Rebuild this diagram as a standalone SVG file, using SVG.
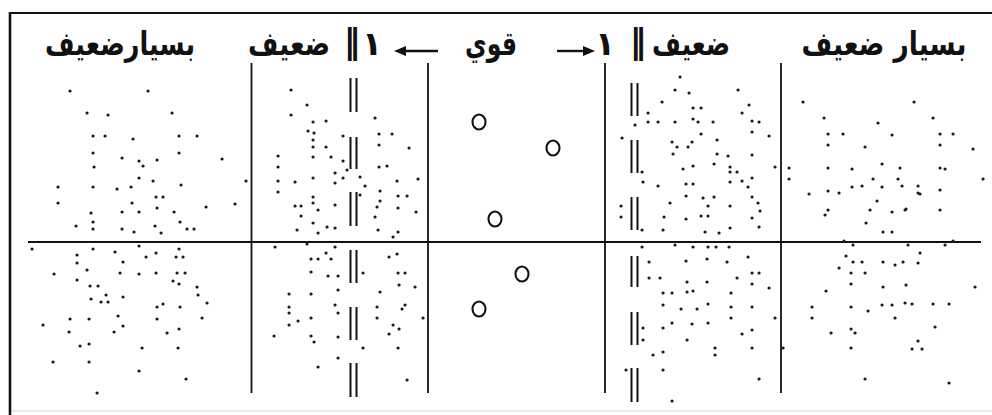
<svg xmlns="http://www.w3.org/2000/svg" width="992" height="415" viewBox="0 0 992 415">
<style>
.frame{stroke:#111;fill:none}
.grid{stroke:#111;stroke-width:1.8;fill:none}
.bar{stroke:#111;stroke-width:2;fill:none}
.dots{stroke:#1a1a1a;stroke-width:3.1;stroke-linecap:round;fill:none}
.ring{stroke:#111;stroke-width:2.1;fill:none}
.lbl{font-family:"DejaVu Sans",sans-serif;font-size:33px;font-weight:bold;fill:#111}
.arr{stroke:#111;stroke-width:2.4;fill:none}
</style>
<defs>
<marker id="ah" viewBox="0 0 12 10" markerWidth="13" markerHeight="10" markerUnits="userSpaceOnUse" refX="2" refY="5" orient="auto">
<path d="M0,0 L12,5 L0,10 z" fill="#111"/>
</marker>
</defs>
<rect width="992" height="415" fill="#fff"/>
<g id="frame">
<line class="frame" x1="9" y1="13" x2="992" y2="13" stroke-width="2"/>
<line class="frame" x1="10" y1="12" x2="10" y2="415" stroke-width="2.6"/>
<line x1="12" y1="411" x2="992" y2="411" stroke="#e2e2e2" stroke-width="1.5"/>
</g>
<g id="grid">
<line class="grid" x1="251.5" y1="63" x2="251.5" y2="393"/>
<line class="grid" x1="428" y1="63" x2="428" y2="393"/>
<line class="grid" x1="605" y1="63" x2="605" y2="393"/>
<line class="grid" x1="781" y1="63" x2="781" y2="393"/>
<line class="grid" x1="28" y1="242" x2="981" y2="242" stroke-width="2"/>
</g>
<g id="barrier-left">
<path class="bar" d="M350.5 78V112M356.5 78V112M350.5 137V169M356.5 137V169M350.5 192V226M356.5 192V226M350.5 250V283M356.5 250V283M350.5 307V340M356.5 307V340M350.5 363V397M356.5 363V397"/>
</g>
<g id="barrier-right">
<path class="bar" d="M631.5 83V116M637.5 83V116M631.5 140V173M637.5 140V173M631.5 197V230M637.5 197V230M631.5 256V287M637.5 256V287M631.5 312V345M637.5 312V345M631.5 368V402M637.5 368V402"/>
</g>
<g id="particles-strong">
<ellipse class="ring" cx="479" cy="122" rx="6.5" ry="7.5"/>
<ellipse class="ring" cx="553" cy="148" rx="6.5" ry="7.5"/>
<ellipse class="ring" cx="495" cy="219" rx="6.5" ry="7.5"/>
<ellipse class="ring" cx="522" cy="274" rx="6.5" ry="7.5"/>
<ellipse class="ring" cx="479" cy="309" rx="6.5" ry="7.5"/>
</g>
<g id="dots-col1">
<path class="dots" d="M70 91h.1M148 91h.1M87 113h.1M108 115h.1M172 113h.1M93 136h.1M105 136h.1M133 139h.1M179 136h.1M197 136h.1M93 153h.1M122 158h.1M139 161h.1M143 166h.1M157 160h.1M179 153h.1M222 159h.1M94 167h.1M58 187h.1M93 187h.1M117 189h.1M131 187h.1M139 178h.1M153 181h.1M181 185h.1M246 181h.1M58 203h.1M132 203h.1M139 212h.1M122 212h.1M156 197h.1M163 197h.1M157 208h.1M174 212h.1M206 207h.1M235 204h.1M91 213h.1M93 222h.1M76 226h.1M93 229h.1M122 229h.1M134 232h.1M155 226h.1M161 233h.1M180 222h.1M187 229h.1M194 229h.1"/>
<path class="dots" d="M32 249h.1M77 255h.1M93 249h.1M115 252h.1M139 246h.1M146 257h.1M156 253h.1M179 249h.1M176 257h.1M183 257h.1M77 263h.1M123 262h.1M54 274h.1M87 270h.1M77 280h.1M120 273h.1M139 274h.1M156 273h.1M177 273h.1M185 273h.1M173 281h.1M179 284h.1M90 286h.1M98 286h.1M197 287h.1M106 295h.1M123 297h.1M198 295h.1M91 299h.1M101 302h.1M108 302h.1M207 303h.1M163 304h.1M157 307h.1M180 307h.1M43 325h.1M70 319h.1M89 319h.1M118 316h.1M123 326h.1M114 332h.1M157 319h.1M202 318h.1M69 332h.1M167 333h.1M179 329h.1M80 346h.1M89 344h.1M142 348h.1M178 348h.1M53 362h.1M89 362h.1M139 371h.1M186 379h.1M97 393h.1"/>
</g>
<g id="dots-col2">
<path class="dots" d="M291 90h.1M307 105h.1M291 115h.1M313 122h.1M326 121h.1M375 118h.1M308 131h.1M314 133h.1M313 140h.1M343 136h.1M379 134h.1M392 134h.1M313 147h.1M326 147h.1M379 145h.1M409 148h.1M278 156h.1M313 157h.1M331 157h.1M343 161h.1M278 167h.1M347 170h.1M379 167h.1M387 166h.1M335 173h.1M360 177h.1M278 181h.1M295 182h.1M313 178h.1M335 183h.1M343 178h.1M365 186h.1M380 191h.1M397 181h.1M418 179h.1M278 192h.1M313 197h.1M360 195h.1M380 201h.1M398 196h.1M407 196h.1M295 206h.1M301 206h.1M313 203h.1M335 205h.1M377 207h.1M398 208h.1M416 212h.1M318 210h.1M301 216h.1M375 217h.1M313 223h.1M327 227h.1M335 228h.1M297 230h.1M318 233h.1M378 230h.1M398 232h.1M393 237h.1"/>
<path class="dots" d="M275 247h.1M307 244h.1M335 247h.1M326 253h.1M311 259h.1M318 259h.1M331 259h.1M389 257h.1M397 254h.1M311 272h.1M328 276h.1M338 276h.1M363 273h.1M398 273h.1M405 273h.1M338 290h.1M399 285h.1M415 287h.1M380 292h.1M289 294h.1M311 294h.1M289 307h.1M335 305h.1M338 313h.1M377 307h.1M405 305h.1M402 309h.1M289 313h.1M311 318h.1M289 325h.1M298 321h.1M377 318h.1M423 318h.1M393 325h.1M399 329h.1M389 334h.1M274 336h.1M311 336h.1M314 342h.1M338 337h.1M363 348h.1M398 348h.1M338 358h.1M318 367h.1M407 380h.1"/>
</g>
<g id="dots-col4">
<path class="dots" d="M680 77h.1M675 90h.1M689 93h.1M738 90h.1M662 102h.1M749 105h.1M648 113h.1M693 108h.1M701 108h.1M742 113h.1M635 125h.1M648 122h.1M658 122h.1M675 122h.1M693 119h.1M698 122h.1M713 122h.1M752 121h.1M759 122h.1M701 134h.1M752 132h.1M769 136h.1M622 138h.1M717 140h.1M672 142h.1M692 142h.1M677 147h.1M688 147h.1M673 154h.1M717 154h.1M728 156h.1M752 155h.1M642 172h.1M683 169h.1M693 166h.1M714 164h.1M730 167h.1M730 172h.1M737 172h.1M752 178h.1M775 167h.1M658 186h.1M686 184h.1M693 184h.1M730 182h.1M742 181h.1M748 187h.1M643 182h.1M686 196h.1M714 197h.1M752 197h.1M621 206h.1M670 203h.1M703 198h.1M708 206h.1M730 206h.1M758 203h.1M621 217h.1M664 217h.1M686 219h.1M701 216h.1M708 216h.1M760 211h.1M752 218h.1M663 230h.1M705 232h.1M719 233h.1M730 228h.1M759 227h.1M642 230h.1"/>
<path class="dots" d="M642 247h.1M675 245h.1M693 247h.1M708 247h.1M716 247h.1M729 247h.1M649 262h.1M686 261h.1M707 259h.1M727 262h.1M748 257h.1M649 278h.1M660 278h.1M687 282h.1M707 282h.1M737 278h.1M752 273h.1M759 273h.1M752 284h.1M769 288h.1M663 293h.1M672 293h.1M687 292h.1M693 291h.1M731 293h.1M663 305h.1M681 309h.1M697 309h.1M708 304h.1M731 307h.1M752 307h.1M672 323h.1M663 328h.1M692 324h.1M708 323h.1M731 318h.1M775 318h.1M643 328h.1M643 340h.1M687 340h.1M742 334h.1M752 330h.1M653 355h.1M663 352h.1M715 348h.1M715 355h.1M752 348h.1M783 348h.1M626 370h.1M663 370h.1M759 379h.1M672 401h.1"/>
</g>
<g id="dots-col5">
<path class="dots" d="M803 102h.1M914 102h.1M824 118h.1M878 123h.1M933 118h.1M828 134h.1M843 134h.1M892 135h.1M940 134h.1M953 134h.1M828 145h.1M865 147h.1M940 145h.1M973 149h.1M789 168h.1M828 168h.1M852 169h.1M882 164h.1M900 168h.1M940 168h.1M945 169h.1M789 179h.1M873 179h.1M898 179h.1M983 179h.1M809 194h.1M828 191h.1M839 193h.1M852 187h.1M862 186h.1M882 187h.1M902 186h.1M918 186h.1M940 190h.1M920 194h.1M877 201h.1M828 210h.1M825 215h.1M870 210h.1M892 212h.1M906 209h.1M940 210h.1M866 223h.1M883 232h.1M892 232h.1M918 193h.1M905 210h.1"/>
<path class="dots" d="M844 241h.1M853 245h.1M908 245h.1M945 245h.1M953 241h.1M846 256h.1M853 262h.1M862 262h.1M883 262h.1M895 265h.1M903 262h.1M920 253h.1M918 263h.1M839 268h.1M851 273h.1M865 273h.1M826 291h.1M851 284h.1M883 287h.1M906 285h.1M975 287h.1M868 311h.1M812 307h.1M851 307h.1M882 305h.1M892 305h.1M905 303h.1M912 304h.1M933 304h.1M949 304h.1M812 318h.1M895 318h.1M851 329h.1M855 333h.1M831 333h.1M935 327h.1M918 341h.1M851 348h.1M912 349h.1M922 349h.1M865 379h.1M949 383h.1"/>
</g>
<g id="labels">
<text id="lbl-col1" class="lbl" x="120" y="55" text-anchor="middle" textLength="150" lengthAdjust="spacingAndGlyphs">بسيارضعيف</text>
<text id="lbl-col2" class="lbl" x="289" y="55" text-anchor="middle" textLength="82" lengthAdjust="spacingAndGlyphs">ضعيف</text>
<text id="lbl-bar-left" class="lbl" x="352" y="53" text-anchor="middle" font-size="28">‖</text>
<text id="lbl-one-left" class="lbl" x="372" y="55" text-anchor="middle" font-size="24">١</text>
<text id="lbl-col3" class="lbl" x="491" y="55" text-anchor="middle" textLength="52" lengthAdjust="spacingAndGlyphs">قوي</text>
<text id="lbl-one-right" class="lbl" x="605" y="55" text-anchor="middle" font-size="24">١</text>
<text id="lbl-bar-right" class="lbl" x="638" y="53" text-anchor="middle" font-size="28">‖</text>
<text id="lbl-col4" class="lbl" x="691" y="55" text-anchor="middle" textLength="78" lengthAdjust="spacingAndGlyphs">ضعيف</text>
<text id="lbl-col5" class="lbl" x="884" y="55" text-anchor="middle" textLength="165" lengthAdjust="spacingAndGlyphs">بسيار ضعيف</text>
</g>
<g id="connectors">
<line class="arr" x1="438" y1="51" x2="404" y2="51" marker-end="url(#ah)"/>
<line class="arr" x1="557" y1="51" x2="585" y2="51" marker-end="url(#ah)"/>
</g>
</svg>
